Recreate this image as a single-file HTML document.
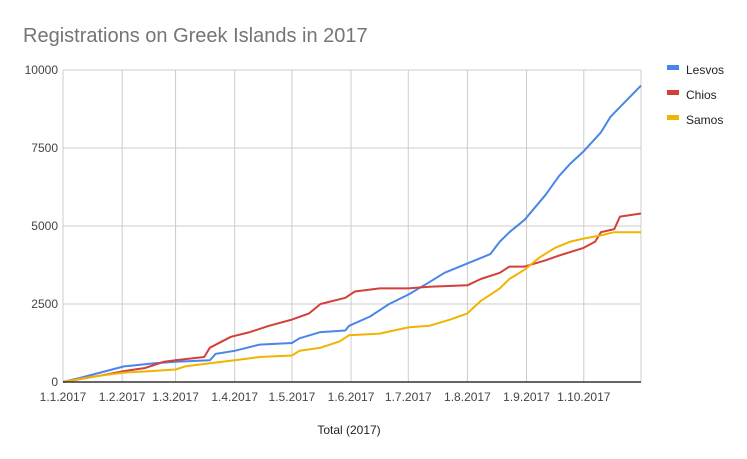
<!DOCTYPE html>
<html><head><meta charset="utf-8"><style>
body{margin:0;background:#fff;font-family:"Liberation Sans",Arial,sans-serif}
</style></head><body>
<svg id="chart" width="747" height="459" style="display:block">
<text x="23" y="42" font-size="20" fill="#757575">Registrations on Greek Islands in 2017</text>
<g id="grid"></g><g id="series"></g><g id="axes"></g>
<text x="349" y="434" font-size="12" fill="#222" text-anchor="middle">Total (2017)</text>
<g id="legend"></g>
</svg>
<script>
const monthLabels=["1.1.2017","1.2.2017","1.3.2017","1.4.2017","1.5.2017","1.6.2017","1.7.2017","1.8.2017","1.9.2017","1.10.2017"];
const monthDays=[0,31,59,90,120,151,181,212,243,273];
const yTicks=[0,2500,5000,7500,10000];
const seriesNames=["Lesvos","Chios","Samos"];
const seriesColors=["#4a86e8","#d43f3a","#f1b400"];
const lesvosDays=[0,9,32,48,59,77,80,90,103,120,124,135,148,150,161,171,181,192,200,212,224,229,234,242,253,260,266,273,282,287,295,303];
const lesvosVals=[0,130,500,600,650,700,900,1000,1200,1250,1400,1600,1650,1800,2100,2500,2800,3200,3500,3800,4100,4500,4800,5200,6000,6600,7000,7400,8000,8500,9000,9500];
const chiosDays=[0,19,32,43,53,59,74,77,88,98,108,120,129,135,148,153,166,181,192,212,219,229,234,242,253,260,273,279,282,289,292,303];
const chiosVals=[0,200,350,450,650,700,800,1100,1450,1600,1800,2000,2200,2500,2700,2900,3000,3000,3050,3100,3300,3500,3700,3700,3900,4050,4300,4500,4800,4900,5300,5400];
const samosDays=[0,9,19,32,46,59,64,77,90,103,120,124,135,145,150,166,181,192,203,212,219,229,234,242,250,258,266,273,282,289,303];
const samosVals=[0,100,200,300,350,400,500,600,700,800,850,1000,1100,1300,1500,1550,1750,1800,2000,2200,2600,3000,3300,3600,4000,4300,4500,4600,4700,4800,4800];
const X0=63,X1=641,Y0=382,Y1=70,DMAX=303,VMAX=10000;
const xs=d=>X0+d*(X1-X0)/DMAX, ys=v=>Y0-v*(Y0-Y1)/VMAX;
const NS="http://www.w3.org/2000/svg";
function mk(t,a,p){const e=document.createElementNS(NS,t);for(const k in a)e.setAttribute(k,a[k]);p.appendChild(e);return e;}
const grid=document.getElementById('grid'),axes=document.getElementById('axes'),ser=document.getElementById('series'),leg=document.getElementById('legend');
yTicks.forEach(v=>{
 const l=mk('line',{x1:X0,x2:X1,y1:ys(v),y2:ys(v),stroke:'#ccc'},grid);
 
 
 const t=mk('text',{x:58,y:ys(v)+4,'font-size':12,fill:'#444','text-anchor':'end'},axes);t.textContent=v;
 
 
});
monthDays.forEach((d,i)=>{
 const l=mk('line',{x1:xs(d),x2:xs(d),y1:Y1,y2:Y0,stroke:'#ccc'},grid);
 
 
 const t=mk('text',{x:xs(d),y:401,'font-size':12,fill:'#444','text-anchor':'middle'},axes);t.textContent=monthLabels[i];
 
 
});
const r=mk('line',{x1:X1,x2:X1,y1:Y1,y2:Y0,stroke:'#ccc'},grid);


const base=mk('line',{x1:X0,x2:X1,y1:Y0,y2:Y0,stroke:'#333','stroke-width':1.5},axes);


[[lesvosDays,lesvosVals],[chiosDays,chiosVals],[samosDays,samosVals]].forEach((s,i)=>{
 const pts=s[0].map((d,j)=>xs(d).toFixed(1)+','+ys(s[1][j]).toFixed(1)).join(' ');
 const p=mk('polyline',{points:pts,fill:'none',stroke:seriesColors[i],'stroke-width':2,'stroke-linejoin':'round'},ser);
 
 
 const g=mk('g',{},leg);
 
 
 mk('rect',{x:667,y:65+i*25,width:12,height:5,fill:seriesColors[i]},g);
 const t=mk('text',{x:686,y:74+i*25,'font-size':12,fill:'#222'},g);t.textContent=seriesNames[i];
});
</script>
</body></html>
